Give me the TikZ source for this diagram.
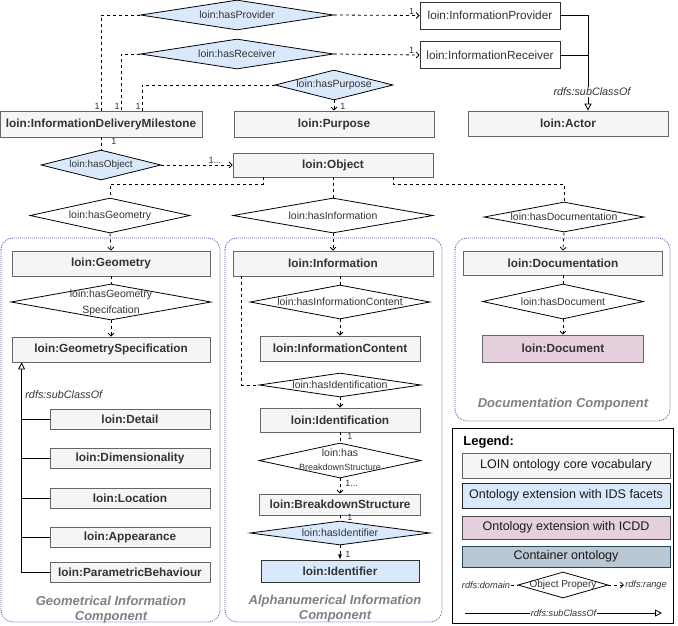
\documentclass[tikz,border=0pt]{standalone}
\usepackage{fontspec}
\setmainfont{Liberation Sans}
\usepackage{tikz}
\usetikzlibrary{arrows.meta}
\tikzset{>=latex}
\usetikzlibrary{shapes.geometric}

\definecolor{corefill}{HTML}{F5F5F5}
\definecolor{coreline}{HTML}{666666}
\definecolor{coretext}{HTML}{333333}
\definecolor{idsfill}{HTML}{DAE8FC}
\definecolor{icddfill}{HTML}{E6D0DE}
\definecolor{contfill}{HTML}{BAC8D3}
\definecolor{contline}{HTML}{23445D}
\definecolor{compline}{HTML}{5B5BA8}
\definecolor{comptext}{HTML}{808080}

\tikzset{
  cls/.style={rectangle, draw=coreline, fill=corefill, text=coretext, inner sep=0pt,
    font=\bfseries\fontsize{11.8}{13}\selectfont, minimum width=#1, minimum height=25},
  cls/.default=200,
  agent/.style={rectangle, draw=coretext, fill=white, text=coretext, inner sep=0pt,
    font=\fontsize{11.8}{13}\selectfont, minimum width=140, minimum height=27},
  prop/.style={diamond, draw=black, fill=white, text=coretext, inner sep=0pt,
    font=\fontsize{10.5}{12}\selectfont},
  idsprop/.style={prop, fill=idsfill},
  link/.style={dash pattern=on 3pt off 3pt},
  toarr/.style={-{Straight Barb[length=3pt,width=6pt]}},
  subcls/.style={-{Triangle[open,length=7pt,width=7pt]}},
  card/.style={font=\fontsize{9}{10}\selectfont, text=coretext, inner sep=1pt},
  subl/.style={font=\itshape\fontsize{10.8}{12}\selectfont, text=coretext, inner sep=1pt},
  legl/.style={subl, font=\itshape\fontsize{9.2}{11}\selectfont},
  comp/.style={draw=compline, dash pattern=on 1pt off 1pt, rounded corners=12pt},
  comptitle/.style={font=\bfseries\itshape\fontsize{13}{15}\selectfont, text=comptext,
    align=center, inner sep=0pt},
  legbox/.style={rectangle, inner sep=0pt, minimum width=208, minimum height=25,
    font=\fontsize{12.5}{14}\selectfont, text=black!90}
}

\begin{document}
\begin{tikzpicture}[x=1pt, y=-1pt, line width=0.8pt]
    \useasboundingbox (0,0) rectangle (678,625);

    % components
    \draw[comp] (1,238) rectangle (220,622);
    \draw[comp] (225,238) rectangle (442,622);
    \draw[comp] (455,238) rectangle (670,421);
    \node[comptitle] (geot) at (111,610) {Geometrical Information\\Component};
    \node[comptitle] (alpt) at (335,609) {Alphanumerical Information\\Component};
    \node[comptitle] (doct) at (563,404) {Documentation Component};

    % top
    \node[idsprop, minimum width=193, minimum height=30] (hprov) at (237,15) {\makebox[0pt]{loin:hasProvider}};
    \node[idsprop, minimum width=193, minimum height=30] (hrec) at (237,54) {\makebox[0pt]{loin:hasReceiver}};
    \node[agent] (iprov) at (490,15.5) {loin:InformationProvider};
    \node[agent] (irec) at (490,55) {loin:InformationReceiver};
    \node[idsprop, minimum width=118, minimum height=30] (hpurp) at (334,85) {\makebox[0pt]{loin:hasPurpose}};
    \node[cls=202, minimum height=26] (idm) at (101,124) {loin:InformationDeliveryMilestone};
    \node[cls=200, minimum height=26] (purp) at (334,124) {loin:Purpose};
    \node[cls=200] (actr) at (568,123.5) {loin:Actor};
    \node[idsprop, minimum width=120, minimum height=30, font=\fontsize{10}{12}\selectfont] (hobj) at (101,165) {\makebox[0pt]{loin:hasObject}};
    \node[cls=200, minimum height=24] (obj) at (333,165) {loin:Object};

    \draw[link] (hprov.west) -| node[card, at end, above left]{1} (idm.north);
    \draw[link] (hrec.west) -| node[card, at end, above left]{1} ([xshift=20pt]idm.north);
    \draw[link] (hpurp.west) -| node[card, at end, above left]{1} ([xshift=41pt]idm.north);
    \draw[link, toarr] (hprov.east) -- node[card, at end, above left, xshift=-4pt]{1} (iprov.west);
    \draw[link, toarr] (hrec.east) -- node[card, at end, above left, xshift=-4pt]{1} (irec.west);
    \draw[link, toarr] (hpurp.south) -- node[card, at end, above right, xshift=5pt]{1} (hpurp.south |- purp.north);
    \draw[link] (idm.south) -- node[card, at start, below right, xshift=9pt]{1} (idm.south |- hobj.north);
    \draw[link, toarr] (hobj.east) -- node[card, near end, above]{1...} (obj.west);

    \coordinate (actin) at ([xshift=20pt]actr.north);
    \draw[subcls] (iprov.east) -| node[subl, fill=white, pos=0.9, xshift=4pt]{rdfs:subClassOf} (actin);
    \draw (irec.east) -- (irec.east -| actin);

    % object facets
    \node[prop, minimum width=160, minimum height=35] (hgeo) at (110,215.5) {\makebox[0pt]{loin:hasGeometry}};
    \node[prop, minimum width=200, minimum height=35] (hinfo) at (333,215.5) {\makebox[0pt]{loin:hasInformation}};
    \node[prop, minimum width=160, minimum height=30] (hdoc) at (564,217) {\makebox[0pt]{loin:hasDocumentation}};
    \draw[link] ([xshift=-70pt]obj.south) -- ++(0,7) -| (hgeo.north);
    \draw[link] (obj.south) -- (hinfo.north);
    \draw[link] ([xshift=60pt]obj.south) -- ++(0,7) -| (hdoc.north);

    % geometry
    \node[cls=198] (geo) at (111,263.5) {loin:Geometry};
    \node[prop, minimum width=200, minimum height=36, font=\fontsize{10.5}{16}\selectfont] (hgspec) at (111,302)
      {\makebox[0pt]{\begin{tabular}{@{}c@{}}loin:hasGeometry\\Specifcation\end{tabular}}};
    \node[cls=198] (gspec) at (111,349.5) {loin:GeometrySpecification};
    \node[cls=160, minimum height=20] (det) at (130,419) {loin:Detail};
    \node[cls=160, minimum height=20] (dim) at (130,458) {loin:Dimensionality};
    \node[cls=160, minimum height=20] (loc) at (130,498) {loin:Location};
    \node[cls=160, minimum height=20] (app) at (130,537) {loin:Appearance};
    \node[cls=160, minimum height=20] (par) at (130,572) {loin:ParametricBehaviour};
    \node[subl, anchor=west] (gsubl) at (24,395) {rdfs:subClassOf};

    \draw[link, toarr] (hgeo.south) -- (geo.north);
    \draw[link] (geo.south) -- (hgspec.north);
    \draw[link, toarr] (hgspec.south) -- (gspec.north);
    \coordinate (spine) at ([xshift=10pt]gspec.south west);
    \draw[subcls] (par.west) -| (spine);
    \draw (det.west) -- (det.west -| spine);
    \draw (dim.west) -- (dim.west -| spine);
    \draw (loc.west) -- (loc.west -| spine);
    \draw (app.west) -- (app.west -| spine);

    % information
    \node[cls=200] (info) at (333,263.5) {loin:Information};
    \node[prop, minimum width=180, minimum height=34] (hicont) at (340,302) {\makebox[0pt]{loin:hasInformationContent}};
    \node[cls=160] (icont) at (340,348.5) {loin:InformationContent};
    \node[prop, minimum width=162, minimum height=24] (hident) at (340,385) {\makebox[0pt]{loin:hasIdentification}};
    \node[cls=160, minimum height=24] (ident) at (340,420) {loin:Identification};
    \node[prop, minimum width=162, minimum height=35, font=\fontsize{10.5}{14}\selectfont] (hbreak) at (340,460.5)
      {\makebox[0pt]{\begin{tabular}{@{}c@{}}loin:has\\{\fontsize{9}{10}\selectfont BreakdownStructure}\end{tabular}}};
    \node[cls=161, minimum height=21] (bstruct) at (340,504.5) {loin:BreakdownStructure};
    \node[idsprop, minimum width=180, minimum height=24] (hidf) at (340,533) {\makebox[0pt]{loin:hasIdentifier}};
    \node[cls=158, minimum height=22, fill=idsfill, draw=coretext] (idf) at (340,571) {loin:Identifier};

    \draw[link, toarr] (hinfo.south) -- (info.north);
    \draw[link] ([xshift=7pt]info.south) -- (hicont.north);
    \draw[link, toarr] (hicont.south) -- (icont.north);
    \draw[link] ([xshift=9pt]info.south west) |- (hident.west);
    \draw[link, toarr] (hident.south) -- (ident.north);
    \draw[link] (ident.south) -- node[card, pos=0.4, right=6pt]{1} (hbreak.north);
    \draw[link, toarr] (hbreak.south) -- node[card, pos=0.3, right=4pt]{1...} (bstruct.north);
    \draw[link] (bstruct.south) -- node[card, pos=0.4, right=6pt]{1} (hidf.north);
    \draw[link, ->] (hidf.south) -- node[card, pos=0.6, right=4pt]{1} (idf.north);

    % documentation
    \node[cls=199, minimum height=24] (docu) at (563,263) {loin:Documentation};
    \node[prop, minimum width=161, minimum height=35] (hdocm) at (563,301.5) {\makebox[0pt]{loin:hasDocument}};
    \node[cls=161, minimum height=27, fill=icddfill] (dcmt) at (563,348.5) {loin:Document};
    \draw[link, toarr] (hdoc.south) -- (docu.north);
    \draw[link] (docu.south) -- (hdocm.north);
    \draw[link, toarr] (hdocm.south) -- (dcmt.north);

    % legend
    \node[draw=black, fill=white, inner sep=0pt, minimum width=221, minimum height=195] (legend) at (562.5,525.5) {};
    \node[font=\bfseries\fontsize{13}{15}\selectfont, anchor=west, inner sep=0pt] (legt) at (463,442) {Legend:};
    \node[legbox, fill=corefill, draw=coreline] (lcore) at (566,465.5) {LOIN ontology core vocabulary};
    \node[legbox, fill=idsfill, draw=black!85] (lids) at (566,495.5) {Ontology extension with IDS facets};
    \node[legbox, fill=icddfill, draw=black!70, minimum height=23] (licdd) at (566,527.5) {Ontology extension with ICDD};
    \node[legbox, fill=contfill, draw=contline, minimum height=21] (lcont) at (566,556.5) {Container ontology};
    \node[prop, minimum width=90, minimum height=26, font=\fontsize{10}{12}\selectfont] (lprop) at (563,585) {\makebox[0pt]{Object Propery}};
    \node[legl] (ldom) at (486,585) {rdfs:domain};
    \node[legl] (lran) at (646,585) {rdfs:range};
    \draw[link] (ldom) -- (lprop);
    \draw[link, toarr] (lprop) -- (lran);
    \coordinate (lsubs) at (465,613);
    \coordinate (lsube) at (662,613);
    \draw[subcls] (lsubs) -- node[legl, fill=white]{rdfs:subClassOf} (lsube);
\end{tikzpicture}
\end{document}
